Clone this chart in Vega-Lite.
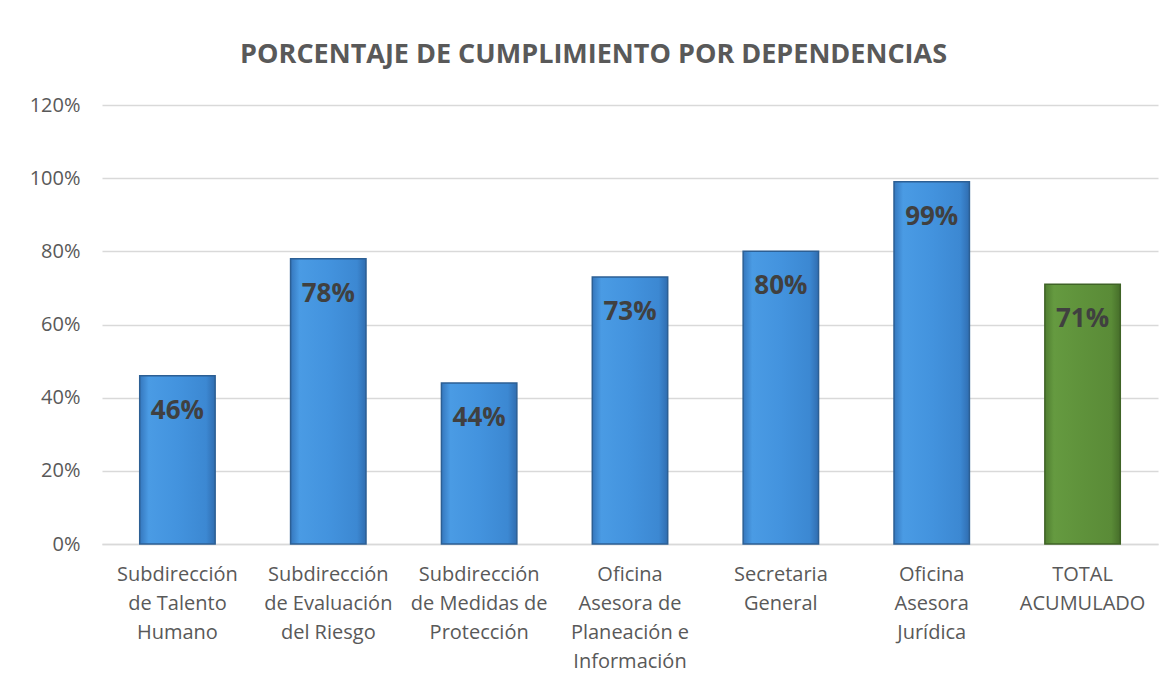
{
  "$schema": "https://vega.github.io/schema/vega-lite/v6.json",
  "autosize": "none",
  "width": 1056,
  "height": 439,
  "padding": {"left": 102, "top": 105, "right": 13, "bottom": 142},
  "background": "white",
  "title": {
    "text": "PORCENTAJE DE CUMPLIMIENTO POR DEPENDENCIAS",
    "font": "Open Sans",
    "fontSize": 27,
    "fontWeight": "bold",
    "color": "#595959",
    "anchor": "middle",
    "frame": "bounds",
    "offset": 26
  },
  "data": {
    "values": [
      {"dependencia": "Subdirección|de Talento|Humano", "valor": 0.46, "tipo": "dep"},
      {"dependencia": "Subdirección|de Evaluación|del Riesgo", "valor": 0.78, "tipo": "dep"},
      {"dependencia": "Subdirección|de Medidas de|Protección", "valor": 0.44, "tipo": "dep"},
      {"dependencia": "Oficina|Asesora de|Planeación e|Información", "valor": 0.73, "tipo": "dep"},
      {"dependencia": "Secretaria|General", "valor": 0.80, "tipo": "dep"},
      {"dependencia": "Oficina|Asesora|Jurídica", "valor": 0.99, "tipo": "dep"},
      {"dependencia": "TOTAL|ACUMULADO", "valor": 0.71, "tipo": "total"}
    ]
  },
  "encoding": {
    "x": {
      "field": "dependencia",
      "type": "nominal",
      "sort": null,
      "title": null,
      "scale": {"paddingInner": 0.5, "paddingOuter": 0.25},
      "axis": {
        "labelExpr": "split(datum.label, '|')",
        "labelAngle": 0,
        "labelFont": "Open Sans",
        "labelFontSize": 20,
        "labelColor": "#595959",
        "labelLineHeight": 29,
        "labelPadding": 20,
        "labelBaseline": "top",
        "ticks": false,
        "domainColor": "#d9d9d9",
        "domainWidth": 1.5
      }
    },
    "y": {
      "field": "valor",
      "type": "quantitative",
      "title": null,
      "scale": {"domain": [0, 1.2], "nice": false},
      "axis": {
        "values": [0, 0.2, 0.4, 0.6, 0.8, 1.0, 1.2],
        "format": ".0%",
        "labelFont": "Open Sans",
        "labelFontSize": 20,
        "labelColor": "#595959",
        "labelPadding": 22,
        "ticks": false,
        "domain": false,
        "gridColor": "#d9d9d9",
        "gridWidth": 1.5
      }
    }
  },
  "layer": [
    {
      "mark": {"type": "bar", "strokeWidth": 1.5},
      "encoding": {
        "fill": {
          "condition": {
            "test": "datum.tipo === 'total'",
            "value": {
              "gradient": "linear", "x1": 0, "y1": 0, "x2": 1, "y2": 0,
              "stops": [
                {"offset": 0, "color": "#4f7d30"},
                {"offset": 0.12, "color": "#659a40"},
                {"offset": 0.5, "color": "#5f923b"},
                {"offset": 0.88, "color": "#5a8b37"},
                {"offset": 1, "color": "#466e2a"}
              ]
            }
          },
          "value": {
            "gradient": "linear", "x1": 0, "y1": 0, "x2": 1, "y2": 0,
            "stops": [
              {"offset": 0, "color": "#3577bd"},
              {"offset": 0.12, "color": "#4a9be4"},
              {"offset": 0.5, "color": "#4393de"},
              {"offset": 0.88, "color": "#3c88d2"},
              {"offset": 1, "color": "#306db0"}
            ]
          }
        },
        "stroke": {
          "condition": {"test": "datum.tipo === 'total'", "value": "#3f6326"},
          "value": "#2c5f94"
        }
      }
    },
    {
      "mark": {
        "type": "text",
        "font": "Open Sans",
        "fontSize": 26,
        "fontWeight": "bold",
        "color": "#404040",
        "baseline": "middle",
        "dy": 35
      },
      "encoding": {
        "text": {"field": "valor", "type": "quantitative", "format": ".0%"}
      }
    }
  ],
  "config": {
    "view": {"stroke": null}
  }
}
